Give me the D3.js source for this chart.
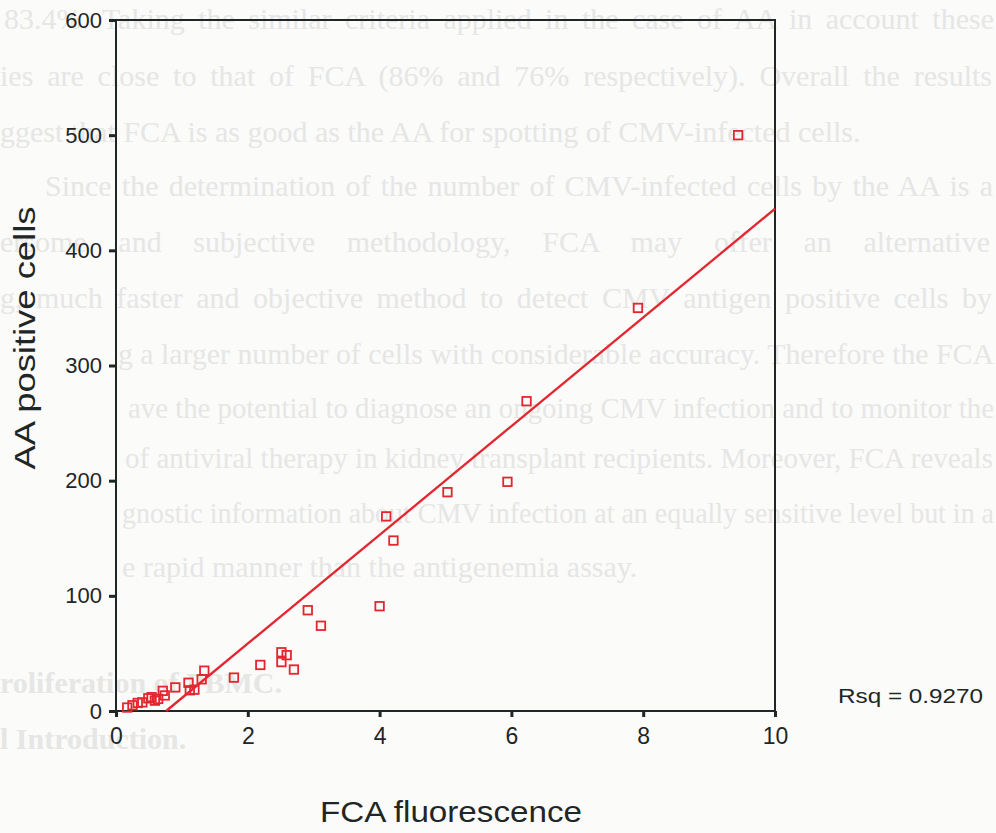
<!DOCTYPE html>
<html>
<head>
<meta charset="utf-8">
<script src="https://cdn.jsdelivr.net/npm/d3@7"></script>
<style>
	html, body { margin: 0; padding: 0; background: #fbfbfa; }
	svg { display: block; }
</style>
</head>
<body>
<svg id="chart" width="996" height="833"></svg>
<script>
// FCA fluorescence vs. AA positive cells, one point per sample
const fcaValues = [0.17, 0.25, 0.33, 0.40, 0.49, 0.54, 0.59, 0.64, 0.71, 0.74, 0.90, 1.10, 1.12, 1.19, 1.30, 1.34, 1.79, 2.19, 2.51, 2.59, 2.51, 2.70, 2.91, 3.11, 4.00, 4.10, 4.21, 5.03, 5.94, 6.23, 7.92, 9.44];
const aaValues = [3, 5, 7, 7.5, 11, 12, 9, 10.5, 17.5, 13.5, 20.5, 24.5, 18, 18.5, 27.5, 35, 29, 40, 51, 48.5, 42.5, 36, 87.5, 74, 91, 169, 148, 190, 199, 269, 350, 500];

const xTicks = [0, 2, 4, 6, 8, 10];
const yTicks = [0, 100, 200, 300, 400, 500, 600];

// linear fit
const fitSlope = 47.2;
const fitIntercept = -35.9;
const rsqLabel = 'Rsq = 0.9270';

const xTitle = 'FCA fluorescence';
const yTitle = 'AA positive cells';

// faint text of the page underneath
const pageLines = [
	'83.4%. Taking the similar criteria applied in the case of AA in account these',
	'ies are close to that of FCA (86% and 76% respectively). Overall the results',
	'ggest that FCA is as good as the AA for spotting of CMV-infected cells.',
	'Since the determination of the number of CMV-infected cells by the AA is a',
	'ersome and subjective methodology, FCA may offer an alternative',
	'g, much faster and objective method to detect CMV antigen positive cells by',
	'g a larger number of cells with considerable accuracy. Therefore the FCA',
	'ave the potential to diagnose an ongoing CMV infection and to monitor the',
	'of antiviral therapy in kidney transplant recipients. Moreover, FCA reveals',
	'gnostic information about CMV infection at an equally sensitive level but in a',
	'e rapid manner than the antigenemia assay.',
	'roliferation of PBMC.',
	'l Introduction.'
];

class Scatter {
	constructor(params) {
		this.svg = params.svg;
		this.left = 116;
		this.right = 775;
		this.top = 20;
		this.bottom = 711;
		this.red = '#e3262f';
		this.ink = '#1f2626';
		this.font = 'Liberation Sans, Arial, sans-serif';
	}

	paintPage() {
		const g = this.svg.append('g').attr('class', 'page');
		// [start x, baseline y, justified width (0 = ragged)]
		const layout = [
			[4, 29, 990], [0, 86, 992], [0, 142, 0], [45, 196, 948],
			[0, 252, 990], [0, 308, 992], [118, 364, 876], [128, 418, 866],
			[125, 468, 868], [122, 523, 872], [122, 577, 0],
			[0, 693, 0], [0, 749, 0]
		];
		pageLines.forEach((line, i) => {
			const [x, y, w] = layout[i];
			const t = g.append('text')
				.attr('x', x)
				.attr('y', y)
				.attr('fill', '#e6e6e5')
				.attr('font-family', 'Liberation Serif, Times New Roman, serif')
				.attr('font-size', 30)
				.attr('font-weight', i > 10 ? 'bold' : 'normal')
				.text(line);
			if (w) {
				// justify by widening the gaps between words
				const gaps = line.split(' ').length - 1;
				const extra = (w - t.node().getComputedTextLength()) / gaps;
				if (extra >= 0) t.attr('word-spacing', extra);
				else t.attr('textLength', w).attr('lengthAdjust', 'spacingAndGlyphs');
			}
		});
	}

	createScales() {
		this.xScale = d3.scaleLinear().domain([0, 10]).range([this.left, this.right]);
		this.yScale = d3.scaleLinear().domain([0, 600]).range([this.bottom, this.top]);
	}

	paintAxis() {
		const yAxis = d3.axisLeft(this.yScale)
			.tickValues(yTicks)
			.tickSize(7)
			.tickSizeOuter(0)
			.tickPadding(7);

		const xAxis = d3.axisBottom(this.xScale)
			.tickValues(xTicks)
			.tickSize(6)
			.tickSizeOuter(0)
			.tickPadding(11);

		const Yg = this.svg.append('g')
			.attr('transform', `translate(${this.left},0)`)
			.call(yAxis);
		const Xg = this.svg.append('g')
			.attr('transform', `translate(0,${this.bottom})`)
			.call(xAxis);

		[Yg, Xg].forEach(g => {
			g.select('.domain').remove();
			g.selectAll('.tick line')
				.attr('stroke', this.ink)
				.attr('stroke-width', 3);
			g.selectAll('.tick text')
				.attr('fill', this.ink)
				.attr('font-family', this.font);
		});
		Yg.selectAll('.tick text').attr('font-size', 22);
		Xg.selectAll('.tick text').attr('font-size', 23);

		// frame around the plot area
		this.svg.append('rect')
			.attr('x', this.left)
			.attr('y', this.top)
			.attr('width', this.right - this.left)
			.attr('height', this.bottom - this.top)
			.attr('fill', 'none')
			.attr('stroke', this.ink)
			.attr('stroke-width', 2);
	}

	paintFit() {
		const x0 = -fitIntercept / fitSlope;
		const line = d3.line()
			.x(d => this.xScale(d))
			.y(d => this.yScale(fitIntercept + fitSlope * d));
		this.svg.append('path')
			.datum([x0, 10])
			.attr('fill', 'none')
			.attr('stroke', this.red)
			.attr('stroke-width', 2.3)
			.attr('d', line);
	}

	paintPoints() {
		const data = fcaValues.map((x, i) => ({ x, y: aaValues[i] }));
		const s = 8.5;
		this.svg.append('g')
			.selectAll('rect')
			.data(data)
			.enter()
			.append('rect')
			.attr('x', d => this.xScale(d.x) - s / 2)
			.attr('y', d => this.yScale(d.y) - s / 2)
			.attr('width', s)
			.attr('height', s)
			.attr('fill', 'none')
			.attr('stroke', this.red)
			.attr('stroke-width', 1.8);
	}

	paintLabels() {
		this.svg.append('text')
			.attr('x', 451)
			.attr('y', 822)
			.attr('text-anchor', 'middle')
			.attr('fill', this.ink)
			.attr('font-family', this.font)
			.attr('font-size', 30)
			.attr('textLength', 262)
			.attr('lengthAdjust', 'spacingAndGlyphs')
			.text(xTitle);

		this.svg.append('text')
			.attr('transform', 'translate(35,338) rotate(-90)')
			.attr('text-anchor', 'middle')
			.attr('fill', this.ink)
			.attr('font-family', this.font)
			.attr('font-size', 30)
			.attr('textLength', 263)
			.attr('lengthAdjust', 'spacingAndGlyphs')
			.text(yTitle);

		this.svg.append('text')
			.attr('x', 838)
			.attr('y', 703)
			.attr('fill', this.ink)
			.attr('font-family', this.font)
			.attr('font-size', 21)
			.attr('textLength', 145)
			.attr('lengthAdjust', 'spacingAndGlyphs')
			.text(rsqLabel);
	}
}

const chart = new Scatter({ svg: d3.select('#chart') });
chart.paintPage();
chart.createScales();
chart.paintAxis();
chart.paintFit();
chart.paintPoints();
chart.paintLabels();
</script>
</body>
</html>
